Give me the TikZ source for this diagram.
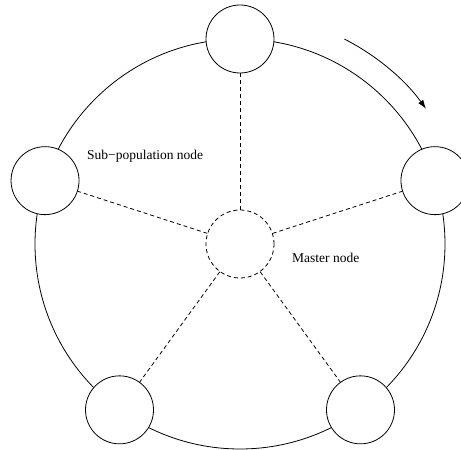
\documentclass[tikz,border=0pt]{standalone}
\usepackage{fontspec}
\setmainfont{Liberation Serif}
\usepackage{tikz}
\usetikzlibrary{arrows.meta,calc}
\tikzset{
    subnode/.style={circle, draw, fill=white, minimum size=68pt, inner sep=0pt, line width=0.8pt},
    masternode/.style={circle, draw, dash pattern=on 4pt off 3pt, minimum size=68pt, inner sep=0pt, line width=0.8pt},
    link/.style={-, dash pattern=on 4pt off 3pt, line width=0.8pt},
    ringline/.style={line width=0.8pt},
    lbl/.style={anchor=west, inner sep=0pt, font=\fontsize{13.5}{16}\selectfont},
}

\begin{document}
\begin{tikzpicture}[x=1pt,y=1pt]
  \useasboundingbox (0,0) rectangle (461,450);
  % master node in the middle
  \node[masternode] (M) at (240,206) {};
  % ring through the sub-population nodes
  \draw[ringline] (M.center) circle[radius=205];
  % sub-population nodes (5 node)
  \foreach \i in {1,...,5}{
    \pgfmathsetmacro{\a}{90-72*(\i-1)}
    \node[subnode] (S-\i) at ($(M.center)+(\a:205)$) {};
    \draw[link] (M) -- (S-\i);
  }
  % direction of migration
  \draw[ringline, -{Latex[length=9pt,width=6pt]}]
    ([shift={(63:230)}]M.center) arc[start angle=63, end angle=36, radius=230];
  % LABELS
  \node[lbl] (sublbl) at (87,294) {Sub−population node};
  \node[lbl] (mlbl) at (292,192) {Master node};
\end{tikzpicture}
\end{document}
